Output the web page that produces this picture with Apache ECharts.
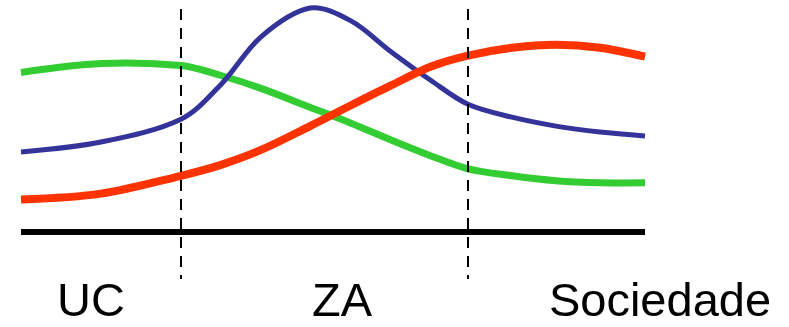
<!DOCTYPE html>
<html>
<head>
<meta charset="utf-8">
<script src="https://cdn.jsdelivr.net/npm/echarts@6/dist/echarts.min.js"></script>
<style>
  html, body { margin: 0; padding: 0; background: #fff; }
  #main { width: 789px; height: 327px; }
</style>
</head>
<body>
<div id="main"></div>
<script>
// x: distance along the axis, y: height above the baseline
var xs     = [0, 80, 160, 200, 240, 289, 330, 370, 410, 447, 491, 535, 579, 624];
var green  = [160, 169, 167, 157, 144, 125, 109, 92, 76, 63, 56, 51, 49, 49];
var blue   = [80, 90, 113, 148, 196, 225, 212, 181, 152, 128, 115, 106, 100, 96];
var red    = [32, 38, 56, 67, 82, 106, 127, 147, 166, 177, 185, 188, 185, 176];

var zoneBorders = [160, 447];          // dashed separators
var baselineEnd = 624;
var zoneLabelPos = [70, 321, 639];
var zoneLabels = ['UC', 'ZA', 'Sociedade'];

var chart = echarts.init(document.getElementById('main'), null, {renderer: 'canvas'});

// one smooth curve per series, points placed through the axes
function curve(name, ys, color, width) {
    return {
        name: name,
        type: 'custom',
        silent: true,
        data: [[xs[0], ys[0]]],
        renderItem: function (params, api) {
            var pts = xs.map(function (x, i) { return api.coord([x, ys[i]]); });
            return {
                type: 'polyline',
                shape: {points: pts, smooth: 0.33},
                style: {stroke: color, lineWidth: width, fill: null}
            };
        }
    };
}

var markLines = [
    [{coord: [0, 0]}, {coord: [baselineEnd, 0], lineStyle: {type: 'solid', width: 6, color: '#000'}}]
];
zoneBorders.forEach(function (x) {
    markLines.push([{coord: [x, 224]}, {coord: [x, -48], lineStyle: {type: [11, 8], width: 2, color: '#000'}}]);
});

var option = {
    animation: false,
    backgroundColor: '#fff',
    grid: {left: 21, right: 0, top: 9, bottom: 46},
    xAxis: {
        type: 'value',
        min: 0,
        max: 768,
        axisLine: {show: false},
        axisTick: {show: false},
        splitLine: {show: false},
        axisLabel: {
            customValues: zoneLabelPos,
            margin: 1,
            fontFamily: 'Liberation Sans',
            fontSize: 47,
            color: '#000',
            formatter: function (v) {
                var i = zoneLabelPos.indexOf(v);
                return i >= 0 ? zoneLabels[i] : '';
            }
        }
    },
    yAxis: {
        type: 'value',
        min: -48,
        max: 224,
        show: false
    },
    series: [
        {
            name: 'guides', type: 'line', data: [], symbol: 'none',
            markLine: {silent: true, symbol: 'none', label: {show: false}, data: markLines}
        },
        curve('green', green, '#33cc33', 7),
        curve('blue', blue, '#333399', 5),
        curve('red', red, '#ff3300', 8)
    ]
};
chart.setOption(option);
</script>
</body>
</html>
